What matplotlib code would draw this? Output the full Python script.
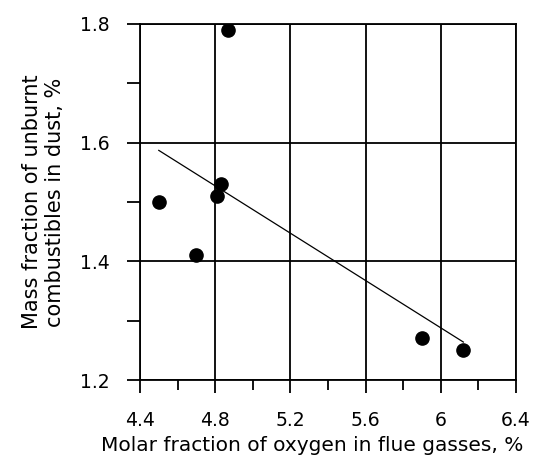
import matplotlib
matplotlib.use("Agg")
import matplotlib.pyplot as plt
from matplotlib.ticker import MultipleLocator

# ------------------------------
# DATA
# ------------------------------
oxygen = [4.50, 4.70, 4.81, 4.83, 4.87, 5.90, 6.12]
unburnt = [1.50, 1.41, 1.51, 1.53, 1.79, 1.27, 1.25]

trend_x = [4.50, 6.12]
trend_y = [1.587, 1.264]

x_ticks = [4.4, 4.8, 5.2, 5.6, 6.0, 6.4]
x_tick_labels = ["4.4", "4.8", "5.2", "5.6", "6", "6.4"]
y_ticks = [1.2, 1.4, 1.6, 1.8]
y_tick_labels = ["1.2", "1.4", "1.6", "1.8"]

# ------------------------------
# PLOT
# ------------------------------
plt.rcParams["font.family"] = ["DejaVu Sans"]

fig = plt.figure(figsize=(5.39, 4.55), dpi=100)
ax = fig.add_axes([0.2597, 0.1648, 0.6976, 0.7825])

ax.plot(trend_x, trend_y, color="black", linewidth=0.9, zorder=3)
ax.plot(oxygen, unburnt, "o", color="black", markersize=9.5, zorder=4)

ax.set_xlim(4.4, 6.4)
ax.set_ylim(1.2, 1.8)
ax.set_xticks(x_ticks)
ax.set_xticklabels(x_tick_labels)
ax.set_yticks(y_ticks)
ax.set_yticklabels(y_tick_labels)
ax.xaxis.set_minor_locator(MultipleLocator(0.2))
ax.yaxis.set_minor_locator(MultipleLocator(0.1))

ax.grid(True, which="major", color="black", linewidth=1.3)
ax.set_axisbelow(True)
for s in ax.spines.values():
    s.set_linewidth(1.3)

ax.tick_params(which="major", direction="out", length=9.5, width=1.3,
               labelsize=13.5)
ax.tick_params(axis="x", which="major", pad=13)
ax.tick_params(axis="y", which="major", pad=12)
ax.tick_params(which="minor", direction="out", length=7.5, width=1.3)
ax.tick_params(axis="y", which="minor", length=9.5)

ax.set_xlabel("Molar fraction of oxygen in flue gasses, %", fontsize=14.5)
ax.xaxis.set_label_coords(0.459, -0.156)
ax.set_ylabel("Mass fraction of unburnt\ncombustibles in dust, %", fontsize=15,
              labelpad=11)

fig.savefig("out.png", dpi=100)
